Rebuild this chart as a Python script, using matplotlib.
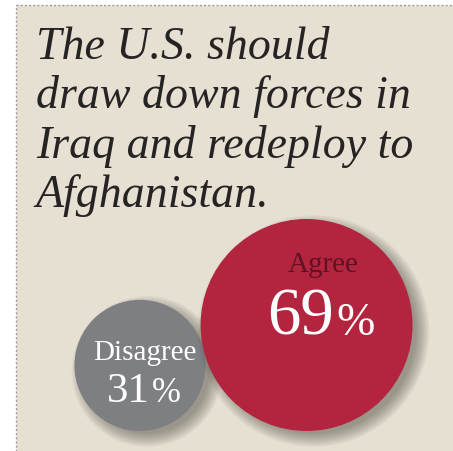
import matplotlib
matplotlib.use("Agg")
import matplotlib.pyplot as plt
from matplotlib.patches import Circle, Rectangle

# ---- data ----
categories = ["Agree", "Disagree"]
values = [69, 31]
title_lines = ["The U.S. should", "draw down forces in",
               "Iraq and redeploy to", "Afghanistan."]

# ---- style ----
BG = "#e6e0d2"
RED = "#b3253f"
GRAY = "#7e7f83"
SERIF = ["Liberation Serif", "DejaVu Serif"]

W, H = 453, 452
fig = plt.figure(figsize=(W / 100, H / 100), dpi=100)
fig.patch.set_facecolor("white")
ax = fig.add_axes([0, 0, 1, 1])
ax.set_xlim(0, W)
ax.set_ylim(H, 0)
ax.set_aspect("equal")
ax.axis("off")

# panel
ax.add_patch(Rectangle((16, 6), W - 16 + 5, H, facecolor=BG,
                       edgecolor="#9a9a9a", linestyle=(0, (1.5, 1.5)),
                       linewidth=1.0, zorder=0))

# title
for i, line in enumerate(title_lines):
    ax.text(36, 59 + i * 49.5, line, fontsize=33, family=SERIF,
            style="italic", color="#262324", ha="left", va="baseline",
            zorder=5)

# bubbles: radius grows with value
r_max = 106
val_max = max(values)
radii = [r_max * (v / val_max) ** 0.6 for v in values]
r_agree, r_dis = radii[0], radii[1]
base_y = 432
dis_cx = 140
agree_cx = dis_cx + r_dis + r_agree - 5
centers = {"Agree": (agree_cx, base_y - r_agree),
           "Disagree": (dis_cx, base_y - r_dis)}
colors = {"Agree": RED, "Disagree": GRAY}
zord = {"Agree": 4, "Disagree": 2}

for cat, r in zip(categories, radii):
    cx, cy = centers[cat]
    # soft drop shadow
    n = 16
    for k in range(n):
        rr = r + 10 - k * 0.9
        ax.add_patch(Circle((cx + 7, cy + 6), rr, facecolor="#3a3a30",
                            edgecolor="none", alpha=0.03,
                            zorder=zord[cat] - 0.5))
    ax.add_patch(Circle((cx, cy), r, facecolor=colors[cat],
                        edgecolor="none", zorder=zord[cat]))

# labels
cx, cy = centers["Agree"]
ax.text(cx + 17, 272, categories[0], fontsize=21, family=SERIF,
        color="#5e1222", ha="center", va="baseline", zorder=6)
ax.text(cx + 27, 335, f"{values[0]}", fontsize=48, family=SERIF,
        color="white", ha="right", va="baseline", zorder=6)
ax.text(cx + 30, 335, "%", fontsize=33, family=SERIF,
        color="white", ha="left", va="baseline", zorder=6)

cx, cy = centers["Disagree"]
ax.text(cx + 5, 360, categories[1], fontsize=21, family=SERIF,
        color="white", ha="center", va="baseline", zorder=6)
ax.text(cx + 10, 402, f"{values[1]}", fontsize=31, family=SERIF,
        color="white", ha="right", va="baseline", zorder=6)
ax.text(cx + 12, 402, "%", fontsize=25, family=SERIF,
        color="white", ha="left", va="baseline", zorder=6)

fig.savefig("out.png", dpi=100, facecolor=fig.get_facecolor())
